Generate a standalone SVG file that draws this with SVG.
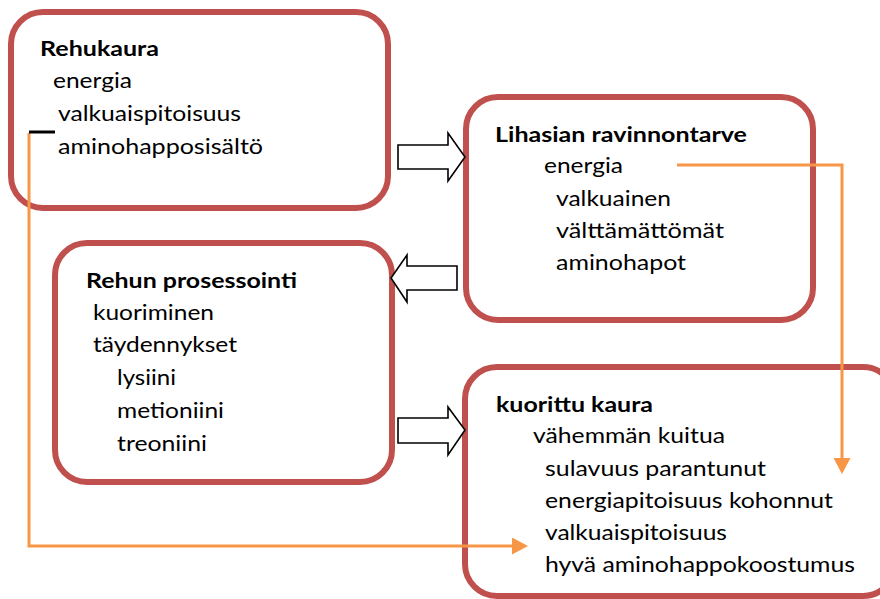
<svg xmlns="http://www.w3.org/2000/svg" width="880" height="599" viewBox="0 0 880 599">
<defs>
<style>
.box{fill:#fff;stroke:#C0504D;stroke-width:6}
.blk{fill:#fff;stroke:#000;stroke-width:1.6;stroke-linejoin:miter}
.t{font-family:Lato,"Open Sans","Liberation Sans",sans-serif;font-size:21px;fill:#000}
.b{font-weight:bold}
.con{fill:none;stroke:#F79646;stroke-width:3}
</style>
<marker id="ah" markerUnits="userSpaceOnUse" markerWidth="16" markerHeight="17" refX="1" refY="8.5" orient="auto" viewBox="0 0 16 17">
<path d="M0,0 L16,8.5 L0,17 Z" fill="#F79646"/>
</marker>
</defs>
<g id="rehukaura">
<rect class="box" x="11" y="12" width="377" height="196" rx="32"/>
<text class="t b" x="40" y="56" textLength="119" lengthAdjust="spacingAndGlyphs">Rehukaura</text>
<text class="t" x="53" y="88" textLength="79" lengthAdjust="spacingAndGlyphs">energia</text>
<text class="t" x="58" y="121" textLength="183" lengthAdjust="spacingAndGlyphs">valkuaispitoisuus</text>
<text class="t" x="58" y="154" textLength="205" lengthAdjust="spacingAndGlyphs">aminohapposisältö</text>
</g>
<g id="lihasian">
<rect class="box" x="466" y="97" width="347" height="223" rx="32"/>
<text class="t b" x="495" y="142" textLength="252" lengthAdjust="spacingAndGlyphs">Lihasian ravinnontarve</text>
<text class="t" x="544" y="173" textLength="79" lengthAdjust="spacingAndGlyphs">energia</text>
<text class="t" x="556" y="206" textLength="115" lengthAdjust="spacingAndGlyphs">valkuainen</text>
<text class="t" x="556" y="238" textLength="168" lengthAdjust="spacingAndGlyphs">välttämättömät</text>
<text class="t" x="556" y="270" textLength="130" lengthAdjust="spacingAndGlyphs">aminohapot</text>
</g>
<g id="prosessointi">
<rect class="box" x="55" y="243" width="337" height="239" rx="32"/>
<text class="t b" x="86" y="288" textLength="211" lengthAdjust="spacingAndGlyphs">Rehun prosessointi</text>
<text class="t" x="93" y="320" textLength="121" lengthAdjust="spacingAndGlyphs">kuoriminen</text>
<text class="t" x="93" y="352" textLength="144" lengthAdjust="spacingAndGlyphs">täydennykset</text>
<text class="t" x="117" y="385" textLength="59" lengthAdjust="spacingAndGlyphs">lysiini</text>
<text class="t" x="117" y="418" textLength="107" lengthAdjust="spacingAndGlyphs">metioniini</text>
<text class="t" x="117" y="451" textLength="90" lengthAdjust="spacingAndGlyphs">treoniini</text>
</g>
<g id="kuorittu">
<rect class="box" x="465" y="367" width="430" height="229" rx="32"/>
<text class="t b" x="496" y="412" textLength="157" lengthAdjust="spacingAndGlyphs">kuorittu kaura</text>
<text class="t" x="533" y="443" textLength="192" lengthAdjust="spacingAndGlyphs">vähemmän kuitua</text>
<text class="t" x="545" y="476" textLength="221" lengthAdjust="spacingAndGlyphs">sulavuus parantunut</text>
<text class="t" x="545" y="508" textLength="288" lengthAdjust="spacingAndGlyphs">energiapitoisuus kohonnut</text>
<text class="t" x="545" y="540" textLength="182" lengthAdjust="spacingAndGlyphs">valkuaispitoisuus</text>
<text class="t" x="545" y="572" textLength="310" lengthAdjust="spacingAndGlyphs">hyvä aminohappokoostumus</text>
</g>
<g id="connectors">
<polygon class="blk" points="398,145 448,145 448,133 465,157 448,181 448,169 398,169"/>
<polygon class="blk" points="457,266 407,266 407,255 391,278 407,302 407,290 457,290"/>
<polygon class="blk" points="398,418 448,418 448,407 465,430 448,455 448,443 398,443"/>
<polyline class="con" points="677,165 842,165 842,459" marker-end="url(#ah)"/>
<polyline class="con" points="29,133 29,546 513,546" marker-end="url(#ah)"/>
<line x1="29" y1="132" x2="55" y2="132" stroke="#000" stroke-width="3"/>
</g>
</svg>
